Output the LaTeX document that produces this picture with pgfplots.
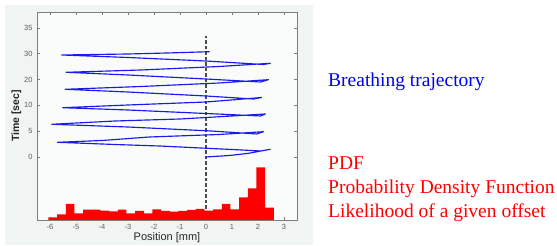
\documentclass[border=0pt]{standalone}
\usepackage{fontspec}
\setmainfont{Liberation Serif}
\setsansfont{Liberation Sans}
\usepackage{pgfplots}
\pgfplotsset{compat=1.18}
\definecolor{panelbg}{RGB}{240,244,242}
\definecolor{axisbg}{RGB}{249,252,250}
\definecolor{framegray}{RGB}{125,125,125}
\definecolor{ticktext}{RGB}{95,95,95}
\definecolor{trajblue}{RGB}{25,25,240}
\begin{document}
\begin{tikzpicture}
\path[use as bounding box] (0pt,0pt) rectangle (557pt,246pt);
\fill[white] (0pt,0pt) rectangle (557pt,246pt);
\fill[panelbg] (5pt,1pt) rectangle (313pt,241pt);
\begin{axis}[
  at={(37pt,26pt)}, anchor=south west,
  scale only axis, width=260pt, height=208pt,
  xmin=-6.5, xmax=3.5, ymin=0, ymax=208,
  axis background/.style={fill=axisbg},
  axis line style={framegray, line width=0.7pt},
  every tick/.style={framegray, line width=0.6pt},
  major tick length=3pt,
  tick align=inside, tick pos=both,
  xtick={-6,-5,-4,-3,-2,-1,0,1,2,3},
  xticklabels={-6,-5,-4,-3,-2,-1,0,1,2,3},
  ytick={63,88.8,114.6,140.4,166.2,192},
  yticklabels={0,5,10,20,30,35},
  tick label style={font=\sffamily\fontsize{7.5}{8}\selectfont, text=ticktext},
  xticklabel style={yshift=-1pt},
  yticklabel style={xshift=-1pt},
  xlabel={Position [mm]},
  ylabel={Time [sec]},
  label style={font=\sffamily\fontsize{11}{12}\selectfont, text=black!85},
  ylabel style={font=\sffamily\bfseries\fontsize{10.5}{12}\selectfont, yshift=-4pt},
  xlabel style={yshift=4pt},
  clip=false,
]
\addplot[draw=black!70, line width=1.1pt, dash pattern=on 3.5pt off 2pt] coordinates {(0,0) (0,184)};
\addplot[ybar interval, fill=red, draw=none] coordinates {
(-6.060,2.7) (-5.727,5.7) (-5.393,16) (-5.060,6.7) (-4.727,10.3) (-4.393,10.3)
(-4.060,9.3) (-3.727,8.7) (-3.393,10.3) (-3.060,6.7) (-2.727,9) (-2.393,6.7)
(-2.060,10.7) (-1.727,9) (-1.393,8.3) (-1.060,9) (-0.727,10) (-0.393,11)
(-0.060,9.3) (0.273,10.7) (0.607,16) (0.940,10.7) (1.273,22.7) (1.607,31.7)
(1.940,52.7) (2.273,12.3) (2.607,12.3)
};
\addplot[trajblue, line width=1.15pt, line join=round] coordinates {
(0,63) (0.9,64.5) (1.64,66.7) (2.47,70.7) (2.1,69) (1.0,70.5) (-1.79,74) (-3.5,75.5)
(-5.71,77.7) (-4.0,79.5) (-2.18,83) (0.5,85.5) (2.21,88.3) (1.95,86) (0.2,89) (-3.0,93)
(-5.93,95.7) (-3.5,99) (-1.0,101) (1.0,104) (2.28,106) (2.1,104) (0.0,106.5) (-3.0,110)
(-5.51,112.3) (-3.0,115) (0.0,118) (1.2,120.5) (2.14,122.5) (1.83,121) (0.0,124) (-3.0,128)
(-5.42,130.7) (-2.5,133.5) (0.5,137) (2.4,140.3) (2.1,138) (0.0,141) (-3.0,145)
(-5.38,147.7) (-2.5,150) (0.5,153.5) (2.47,156.7) (2.21,155.5) (0.0,159) (-3.0,162.5)
(-5.55,165) (-3.0,166) (-1.5,167) (0.14,168.3)
};
\end{axis}
\node[anchor=base west, text=blue, font=\fontsize{19.5}{23}\selectfont, inner sep=0pt] at (328pt,159.5pt) {Breathing trajectory};
\node[anchor=base west, text=red, font=\fontsize{19.5}{23}\selectfont, inner sep=0pt] at (328pt,76pt) {PDF};
\node[anchor=base west, text=red, font=\fontsize{19.5}{23}\selectfont, inner sep=0pt] at (328pt,52pt) {Probability Density Function};
\node[anchor=base west, text=red, font=\fontsize{19.5}{23}\selectfont, inner sep=0pt] at (328pt,28pt) {Likelihood of a given offset};
\end{tikzpicture}
\end{document}
